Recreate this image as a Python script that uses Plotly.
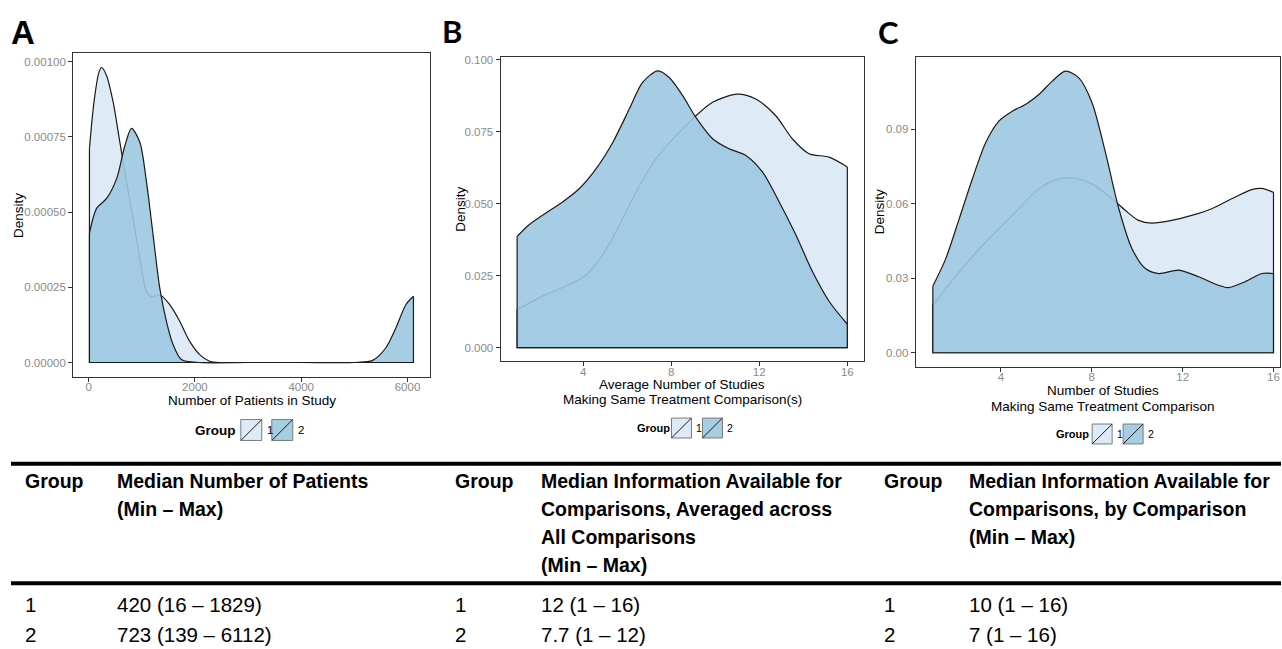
import plotly.graph_objects as go

W, H = 1282, 649

# ---------------- data ----------------
# Panel A: Number of Patients in Study (density)
A_g1_x = [16, 100, 194, 244, 338, 463, 588, 713, 838, 964, 1089, 1182, 1339, 1527, 1714, 1902, 2090, 2277, 2465]
A_g1_y = [0.00071, 0.000864, 0.000964, 0.00098, 0.000953, 0.000864, 0.000732, 0.0006, 0.000478, 0.000346,
          0.000236, 0.000219, 0.000225, 0.000192, 0.000137, 0.00007, 0.000026, 0.000004, 0.0]
A_g2_x = [16, 150, 338, 526, 682, 807, 964, 1089, 1214, 1339, 1464, 1589, 1745, 2090, 3000, 4000, 5000,
          5343, 5593, 5781, 5969, 6112]
A_g2_y = [0.00043, 0.000512, 0.000545, 0.00061, 0.00072, 0.000778, 0.000732, 0.0006, 0.000423, 0.000247,
          0.000137, 0.00006, 0.00001, 0.0, 0.0, 0.0, 0.0, 0.000007, 0.000049, 0.000115, 0.000192, 0.00022]

# Panel B: Average Number of Studies making same comparison(s)
B_g1_x = [1, 2.29, 3.38, 4.14, 4.89, 5.65, 6.4, 7.31, 8.22, 9.12, 9.88, 11.0, 11.84, 12.75, 13.5, 14.26, 15.17, 16]
B_g1_y = [0.0132, 0.0184, 0.0219, 0.0253, 0.0323, 0.0426, 0.0541, 0.0657, 0.0737, 0.0806, 0.0853, 0.0881,
          0.0864, 0.0806, 0.0726, 0.0674, 0.0662, 0.0628]
B_g2_x = [1, 1.53, 2.29, 3.08, 3.83, 4.59, 5.35, 6.1, 6.7, 7.39, 7.91, 8.52, 9.12, 9.88, 10.63, 11.39, 12.15,
          12.9, 13.66, 14.41, 15.17, 16]
B_g2_y = [0.0386, 0.0426, 0.0467, 0.0507, 0.0553, 0.0622, 0.0714, 0.083, 0.0922, 0.0962, 0.0939, 0.0876,
          0.080, 0.0726, 0.0691, 0.0668, 0.061, 0.0507, 0.0392, 0.0265, 0.0161, 0.0081]

# Panel C: Number of Studies making same treatment comparison
C_g1_x = [1, 2.16, 3.33, 4.5, 5.67, 6.55, 7.14, 8.01, 8.89, 9.48, 10.06, 10.64, 11.52, 12.4, 13.28, 14.16,
          15.04, 15.48, 16]
C_g1_y = [0.0192, 0.0326, 0.0446, 0.0553, 0.066, 0.07, 0.0704, 0.068, 0.062, 0.0573, 0.0533, 0.0522, 0.0533,
          0.0553, 0.058, 0.062, 0.0657, 0.0662, 0.0646]
C_g2_x = [1, 1.57, 2.16, 2.74, 3.33, 3.91, 4.5, 5.08, 5.67, 6.26, 6.84, 7.43, 8.01, 8.6, 9.19, 9.77, 10.36,
          10.95, 11.83, 12.7, 13.58, 14.02, 14.75, 15.49, 16]
C_g2_y = [0.0268, 0.0379, 0.0539, 0.07, 0.0847, 0.0933, 0.0973, 0.1, 0.104, 0.1094, 0.1134, 0.1107, 0.1007,
          0.0807, 0.058, 0.0419, 0.0339, 0.0319, 0.0333, 0.0306, 0.0272, 0.0262, 0.0286, 0.0319, 0.0319]

group_labels = ["1", "2"]

A_xticks = [0, 2000, 4000, 6000]
A_yticks = [0, 0.00025, 0.0005, 0.00075, 0.001]
A_yticktext = ["0.00000", "0.00025", "0.00050", "0.00075", "0.00100"]
B_xticks = [4, 8, 12, 16]
B_yticks = [0, 0.025, 0.05, 0.075, 0.1]
B_yticktext = ["0.000", "0.025", "0.050", "0.075", "0.100"]
C_xticks = [4, 8, 12, 16]
C_yticks = [0, 0.03, 0.06, 0.09]
C_yticktext = ["0.00", "0.03", "0.06", "0.09"]

A_xtitle = ["Number of Patients in Study"]
B_xtitle = ["Average Number of Studies", "Making Same Treatment Comparison(s)"]
C_xtitle = ["Number of Studies", "Making Same Treatment Comparison"]

table_group_header = "Group"
table_headers = [
    ["Median Number of Patients", "(Min \u2013 Max)"],
    ["Median Information Available for", "Comparisons, Averaged across", "All Comparisons", "(Min \u2013 Max)"],
    ["Median Information Available for", "Comparisons, by Comparison", "(Min \u2013 Max)"],
]
table_rows = [
    ["420 (16 \u2013 1829)", "12 (1 \u2013 16)", "10 (1 \u2013 16)"],
    ["723 (139 \u2013 6112)", "7.7 (1 \u2013 12)", "7 (1 \u2013 16)"],
]

# ---------------- styling ----------------
FONT = "Liberation Sans, Arial, Helvetica, sans-serif"
C1_FILL = "rgb(222,235,247)"
C2_FILL = "rgba(156,200,224,0.9)"
C1_KEY = "rgb(222,235,247)"
C2_KEY = "rgb(166,206,227)"
LINE = "#1a1a1a"
AXC = "#333333"
TICKC = "#8a8a8a"


def px(x):
    return x / W


def py(y):
    return 1 - y / H


fig = go.Figure()

panels = [
    dict(xs=(A_g1_x, A_g2_x), ys=(A_g1_y, A_g2_y), xa="x", ya="y"),
    dict(xs=(B_g1_x, B_g2_x), ys=(B_g1_y, B_g2_y), xa="x2", ya="y2"),
    dict(xs=(C_g1_x, C_g2_x), ys=(C_g1_y, C_g2_y), xa="x3", ya="y3"),
]

for p in panels:
    for gi, fillc in enumerate([C1_FILL, C2_FILL]):
        xs, ys = p["xs"][gi], p["ys"][gi]
        fig.add_trace(go.Scatter(
            x=xs, y=ys, mode="lines", fill="tozeroy", fillcolor=fillc,
            line=dict(color=LINE, width=1.2, shape="spline", smoothing=0.8),
            xaxis=p["xa"], yaxis=p["ya"], showlegend=False, hoverinfo="skip"))
        fig.add_trace(go.Scatter(
            x=[xs[0], xs[0], xs[-1], xs[-1]], y=[ys[0], 0, 0, ys[-1]], mode="lines",
            line=dict(color=LINE, width=1.2),
            xaxis=p["xa"], yaxis=p["ya"], showlegend=False, hoverinfo="skip"))


def axis_style(**kw):
    d = dict(showgrid=False, zeroline=False, showline=True, mirror=True, linecolor=AXC, linewidth=1.2,
             ticks="outside", ticklen=4, tickcolor=AXC, tickwidth=1,
             tickfont=dict(family=FONT, size=11.5, color=TICKC))
    d.update(kw)
    return d


layout = dict(
    width=W, height=H, margin=dict(l=0, r=0, t=0, b=0, pad=0),
    paper_bgcolor="white", plot_bgcolor="white", showlegend=False,
    xaxis=axis_style(domain=[px(73.3), px(430)], range=[-289, 6417], tickvals=A_xticks, anchor="y",
                     ticklabelstandoff=-5),
    yaxis=axis_style(domain=[py(376), py(50)], range=[-0.000049, 0.001029], tickvals=A_yticks,
                     ticktext=A_yticktext, anchor="x"),
    xaxis2=axis_style(domain=[px(501), px(864.5)], range=[0.25, 16.75], tickvals=B_xticks, anchor="y2",
                      ticklabelstandoff=-4),
    yaxis2=axis_style(domain=[py(360), py(54.3)], range=[-0.0048, 0.101], tickvals=B_yticks,
                      ticktext=B_yticktext, anchor="x2"),
    xaxis3=axis_style(domain=[px(916.5), px(1281.3)], range=[0.25, 16.3], tickvals=C_xticks, anchor="y3",
                      ticklabelstandoff=-5),
    yaxis3=axis_style(domain=[py(365.5), py(54.3)], range=[-0.00567, 0.1191], tickvals=C_yticks,
                      ticktext=C_yticktext, anchor="x3"),
)
fig.update_layout(**layout)

ann = []
shapes = []


def text(x, y, s, size, bold=False, anchor="left", color="black", angle=0, family=FONT):
    ann.append(dict(x=px(x), y=py(y), xref="paper", yref="paper", text=("<b>%s</b>" % s) if bold else s,
                    showarrow=False, xanchor=anchor, yanchor="middle", textangle=angle,
                    font=dict(family=family, size=size, color=color)))


# panel letters
text(23.5, 30, "A", 33, bold=True, anchor="center", family="Liberation Sans, Arial, sans-serif")
text(452, 28, "B", 31, bold=True, anchor="center", family="Lato, Open Sans, sans-serif")
text(889, 29, "C", 31, bold=True, anchor="center", family="Lato, Open Sans, sans-serif")

# y axis titles
text(18, 213, "Density", 13.5, anchor="center", angle=-90)
text(460, 207, "Density", 13.5, anchor="center", angle=-90)
text(880, 210, "Density", 13.5, anchor="center", angle=-90)

# x axis titles
text(252, 399, A_xtitle[0], 13.5, anchor="center")
for i, s in enumerate(B_xtitle):
    text(683, 383 + i * 15, s, 13.5, anchor="center")
for i, s in enumerate(C_xtitle):
    text(1104, 389 + i * 16, s, 13.5, anchor="center")

# legends
legends = [
    dict(gx=193, yc=429, k1=241, k2=272, l1=265, l2=296, ks=21, fs=13.5, ls=11.5),
    dict(gx=635, yc=427, k1=672, k2=703, l1=695, l2=726, ks=20, fs=11, ls=10.5),
    dict(gx=1055, yc=433, k1=1093, k2=1124, l1=1116, l2=1147, ks=20, fs=11, ls=10.5),
]
for lg in legends:
    text(lg["gx"], lg["yc"], "Group", lg["fs"], bold=True)
    for kx, col, lx, lab in [(lg["k1"], C1_KEY, lg["l1"], group_labels[0]),
                             (lg["k2"], C2_KEY, lg["l2"], group_labels[1])]:
        y0, y1 = lg["yc"] - lg["ks"] / 2, lg["yc"] + lg["ks"] / 2
        shapes.append(dict(type="rect", xref="paper", yref="paper", x0=px(kx), x1=px(kx + lg["ks"]),
                           y0=py(y1), y1=py(y0), fillcolor=col, line=dict(color="#7a7a7a", width=1)))
        shapes.append(dict(type="line", xref="paper", yref="paper", x0=px(kx), x1=px(kx + lg["ks"]),
                           y0=py(y1), y1=py(y0), line=dict(color=LINE, width=1)))
        text(lx, lg["yc"], lab, lg["ls"])

# table
shapes.append(dict(type="line", xref="paper", yref="paper", x0=px(11), x1=1, y0=py(463), y1=py(463),
                   line=dict(color="black", width=4)))
shapes.append(dict(type="line", xref="paper", yref="paper", x0=px(11), x1=1, y0=py(583), y1=py(583),
                   line=dict(color="black", width=4)))

group_cols = [23, 453, 883]
value_cols = [115, 539, 968]
line_y = [480, 508, 536, 565]
row_y = [604, 634]
for c in range(3):
    text(group_cols[c], line_y[0], table_group_header, 19.5, bold=True)
    for li, s in enumerate(table_headers[c]):
        text(value_cols[c], line_y[li], s, 19.5, bold=True)
    for r in range(2):
        text(group_cols[c], row_y[r], group_labels[r], 20.5)
        text(value_cols[c], row_y[r], table_rows[r][c], 20.5)

fig.update_layout(annotations=ann, shapes=shapes)
fig.write_html("out.html", config={"displayModeBar": False},
               post_script="document.body.style.margin='0';document.body.style.overflow='hidden';")
